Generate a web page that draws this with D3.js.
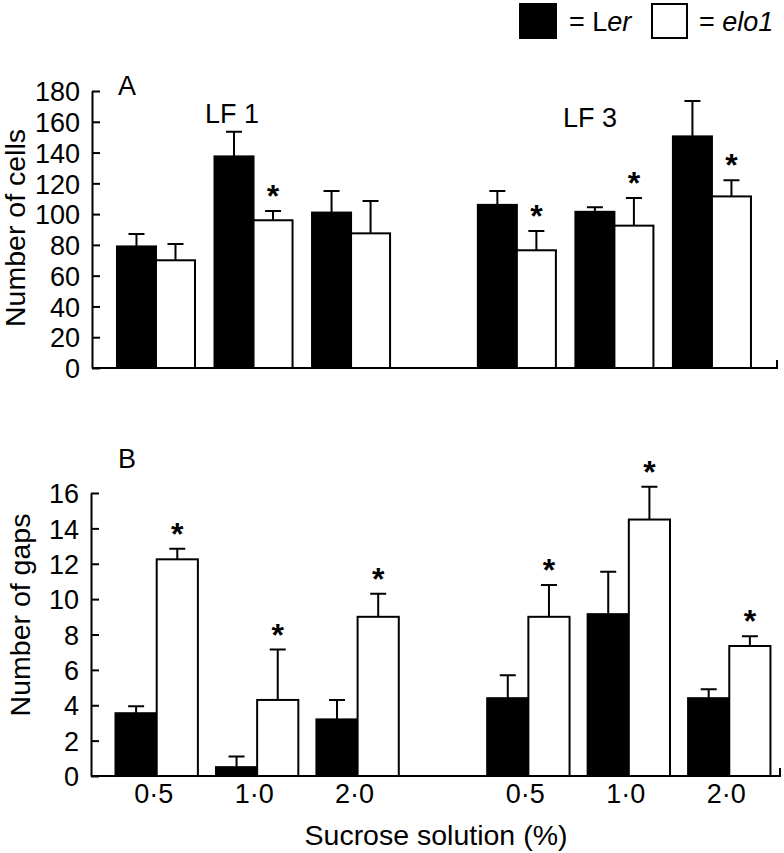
<!DOCTYPE html>
<html>
<head>
<meta charset="utf-8">
<script src="https://cdn.jsdelivr.net/npm/d3@7"></script>
<style>
  body { margin: 0; background: #fff; }
  svg { display: block; font-family: 'Liberation Sans', Arial, Helvetica, sans-serif; }
  .axis path, .axis line { stroke: #000; stroke-width: 2; }
  .axis text { font-size: 27px; fill: #000; }
</style>
</head>
<body>
<svg id="chart" width="784" height="853"></svg>
<script>
// categories
var leaves = ['LF 1', 'LF 1', 'LF 1', 'LF 3', 'LF 3', 'LF 3']
var sucrose = ['0·5', '1·0', '2·0', '0·5', '1·0', '2·0']

// panel A: number of cells
var cellsLer = [79, 137.5, 101, 106, 101.5, 150.5]
var cellsLerErr = [8, 16, 14, 9, 3, 23]
var cellsElo = [70, 96, 87.5, 76.5, 92.5, 111.5]
var cellsEloErr = [10.5, 6, 21, 12.5, 18, 10.5]
var cellsStar = [false, true, false, true, true, true]
var cellsTicks = [0, 20, 40, 60, 80, 100, 120, 140, 160, 180]

// panel B: number of gaps
var gapsLer = [3.55, 0.5, 3.2, 4.4, 9.15, 4.4]
var gapsLerErr = [0.4, 0.6, 1.1, 1.3, 2.4, 0.5]
var gapsElo = [12.25, 4.3, 9.0, 9.0, 14.5, 7.35]
var gapsEloErr = [0.6, 2.85, 1.3, 1.8, 1.85, 0.55]
var gapsStar = [true, true, true, true, true, true]
var gapsTicks = [0, 2, 4, 6, 8, 10, 12, 14, 16]

var svg = d3.select('#chart')

// slot position of each group (LF 3 set off by a wider gap)
function slot (i) { return i < 3 ? i : i + 0.7 }

function panel (opts) {
  var x = d3.scaleLinear().domain(opts.xDomain).range(opts.xRange)
  var y = d3.scaleLinear().domain(opts.yDomain).range(opts.yRange)
  var bw = opts.barW
  var g = svg.append('g')

  var rows = opts.ler.map(function (v, i) {
    return { i: i, ler: v, lerErr: opts.lerErr[i], elo: opts.elo[i], eloErr: opts.eloErr[i], star: opts.star[i] }
  })

  // error bars (drawn under the bars)
  var errs = []
  rows.forEach(function (d) {
    errs.push({ cx: x(slot(d.i) - bw / 2), v: d.ler, e: d.lerErr })
    errs.push({ cx: x(slot(d.i) + bw / 2), v: d.elo, e: d.eloErr })
  })
  g.selectAll('.err')
    .data(errs)
    .enter()
    .append('path')
    .attr('class', 'err')
    .attr('fill', 'none')
    .attr('stroke', '#000')
    .attr('stroke-width', 2)
    .attr('d', function (d) {
      var t = y(d.v + d.e)
      return 'M' + d.cx + ',' + y(d.v) + 'V' + t + 'M' + (d.cx - 8) + ',' + t + 'H' + (d.cx + 8)
    })

  g.selectAll('.ler')
    .data(rows)
    .enter()
    .append('rect')
    .attr('x', function (d) { return x(slot(d.i) - bw) })
    .attr('y', function (d) { return y(d.ler) })
    .attr('width', function (d) { return x(slot(d.i)) - x(slot(d.i) - bw) })
    .attr('height', function (d) { return y(0) - y(d.ler) })
    .attr('fill', '#000')
    .attr('stroke', '#000')
    .attr('stroke-width', 2)

  g.selectAll('.elo')
    .data(rows)
    .enter()
    .append('rect')
    .attr('x', function (d) { return x(slot(d.i)) })
    .attr('y', function (d) { return y(d.elo) })
    .attr('width', function (d) { return x(slot(d.i) + bw) - x(slot(d.i)) })
    .attr('height', function (d) { return y(0) - y(d.elo) })
    .attr('fill', '#fff')
    .attr('stroke', '#000')
    .attr('stroke-width', 2)

  g.selectAll('.star')
    .data(rows.filter(function (d) { return d.star }))
    .enter()
    .append('text')
    .attr('x', function (d) { return x(slot(d.i) + bw / 2) })
    .attr('y', function (d) { return y(d.elo + d.eloErr) - 4 })
    .attr('text-anchor', 'middle')
    .attr('font-size', 32)
    .attr('font-weight', 'bold')
    .text('*')

  // y axis, ticks pointing inward
  g.append('g')
    .attr('class', 'axis')
    .attr('transform', 'translate(' + opts.xRange[0] + ',0)')
    .call(d3.axisLeft(y).tickValues(opts.ticks).tickSizeInner(-8).tickSizeOuter(0).tickPadding(12))
    .call(function (a) { a.selectAll('text').attr('dy', '0.36em') })

  // x axis line with small end tick
  g.append('path')
    .attr('fill', 'none')
    .attr('stroke', '#000')
    .attr('stroke-width', 2)
    .attr('d', 'M' + opts.xRange[0] + ',' + y(0) + 'H' + opts.xRange[1] + 'V' + (y(0) - 8))

  g.append('text')
    .attr('transform', 'translate(' + opts.titleX + ',' + opts.titleY + ') rotate(-90)')
    .attr('text-anchor', 'middle')
    .attr('font-size', 28.5)
    .text(opts.title)

  g.append('text')
    .attr('x', 118)
    .attr('y', opts.letterY)
    .attr('font-size', 27)
    .text(opts.letter)

  return { x: x, y: y, g: g }
}

var pA = panel({
  ler: cellsLer, lerErr: cellsLerErr, elo: cellsElo, eloErr: cellsEloErr, star: cellsStar,
  ticks: cellsTicks, yDomain: [0, 180], yRange: [368, 91],
  xDomain: [-0.656, 6.367], xRange: [92, 777], barW: 0.4,
  title: 'Number of cells', titleX: 25, titleY: 228, letter: 'A', letterY: 95
})

// leaf labels
pA.g.append('text').attr('x', pA.x(0.78)).attr('y', 123).attr('text-anchor', 'middle')
  .attr('font-size', 27).text(leaves[0])
pA.g.append('text').attr('x', pA.x(slot(4) - 0.25)).attr('y', 127).attr('text-anchor', 'middle')
  .attr('font-size', 27).text(leaves[3])

var pB = panel({
  ler: gapsLer, lerErr: gapsLerErr, elo: gapsElo, eloErr: gapsEloErr, star: gapsStar,
  ticks: gapsTicks, yDomain: [0, 16], yRange: [776, 493],
  xDomain: [-0.654, 6.205], xRange: [91, 780], barW: 0.41,
  title: 'Number of gaps', titleX: 30, titleY: 615, letter: 'B', letterY: 468
})

pB.g.selectAll('.xlab')
  .data(sucrose)
  .enter()
  .append('text')
  .attr('x', function (d, i) { return pB.x(slot(i)) - 3 })
  .attr('y', 803)
  .attr('text-anchor', 'middle')
  .attr('font-size', 27)
  .text(function (d) { return d })

svg.append('text')
  .attr('x', 436)
  .attr('y', 845)
  .attr('text-anchor', 'middle')
  .attr('font-size', 28.5)
  .text('Sucrose solution (%)')

// legend
var leg = svg.append('g')
leg.append('rect').attr('x', 520).attr('y', 4).attr('width', 36).attr('height', 34)
  .attr('fill', '#000').attr('stroke', '#000').attr('stroke-width', 2)
var t1 = leg.append('text').attr('x', 569).attr('y', 31).attr('font-size', 27)
t1.append('tspan').text('= L')
t1.append('tspan').attr('font-style', 'italic').text('er')
leg.append('rect').attr('x', 652).attr('y', 4).attr('width', 35).attr('height', 34)
  .attr('fill', '#fff').attr('stroke', '#000').attr('stroke-width', 2)
var t2 = leg.append('text').attr('x', 699).attr('y', 31).attr('font-size', 27)
t2.append('tspan').text('= ')
t2.append('tspan').attr('font-style', 'italic').text('elo1')
</script>
</body>
</html>
